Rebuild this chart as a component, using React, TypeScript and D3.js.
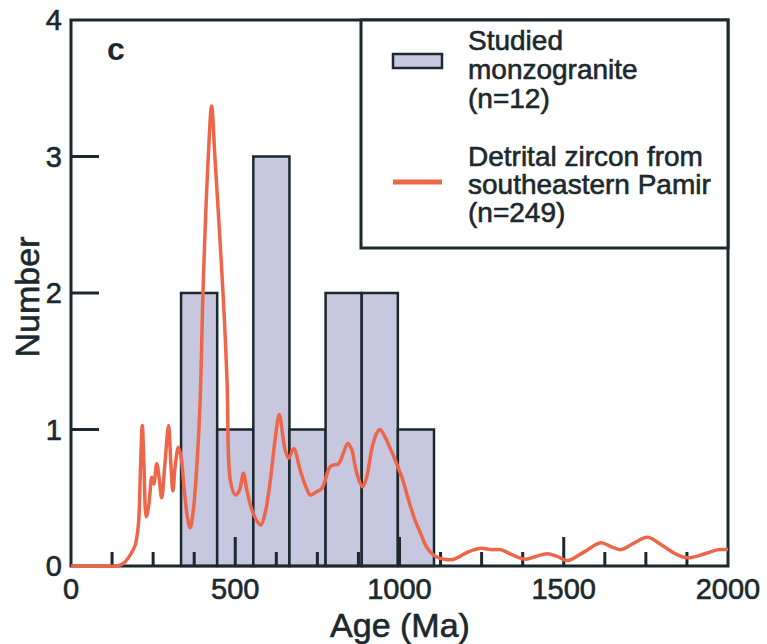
import React from "react";
import * as d3 from "d3";

const binEdges = [335, 445, 555, 665, 775, 885, 995, 1105];
const binCounts = [2, 1, 3, 1, 2, 2, 1];

const curveAges = [0, 100, 140, 160, 180, 195, 205, 212, 217, 222, 229, 237, 246, 252, 261, 268, 276, 286, 297, 304, 310, 318, 327, 335, 345, 355, 363, 372, 383, 393, 403, 418, 428, 438, 449, 465, 475, 485, 500, 512, 525, 535, 551, 566, 578, 592, 607, 620, 634, 645, 652, 663, 678, 698, 715, 729, 745, 764, 790, 815, 828, 843, 855, 866, 878, 888, 900, 915, 928, 940, 955, 972, 993, 1010, 1028, 1045, 1064, 1080, 1095, 1110, 1135, 1166, 1206, 1247, 1280, 1308, 1345, 1384, 1415, 1450, 1480, 1511, 1560, 1613, 1645, 1674, 1715, 1755, 1800, 1840, 1877, 1930, 1970, 2000];
const curveValues = [0, 0, 0, 0.02, 0.08, 0.15, 0.3, 0.75, 1.03, 0.75, 0.36, 0.45, 0.65, 0.6, 0.75, 0.65, 0.5, 0.75, 1.03, 0.75, 0.55, 0.75, 0.87, 0.8, 0.55, 0.35, 0.28, 0.4, 0.73, 1.2, 2.1, 3.0, 3.37, 3.0, 2.57, 1.9, 1.36, 0.63, 0.52, 0.55, 0.68, 0.56, 0.41, 0.33, 0.3, 0.4, 0.63, 0.9, 1.11, 0.95, 0.85, 0.79, 0.86, 0.7, 0.58, 0.52, 0.54, 0.57, 0.73, 0.75, 0.82, 0.9, 0.85, 0.72, 0.62, 0.58, 0.65, 0.85, 0.96, 1.0, 0.95, 0.86, 0.74, 0.63, 0.48, 0.35, 0.24, 0.15, 0.1, 0.07, 0.05, 0.05, 0.1, 0.13, 0.12, 0.12, 0.08, 0.05, 0.07, 0.09, 0.07, 0.04, 0.1, 0.17, 0.14, 0.12, 0.17, 0.21, 0.15, 0.09, 0.06, 0.09, 0.12, 0.12];

const xTickLabels = [0, 500, 1000, 1500, 2000];
const yTickLabels = [0, 1, 2, 3, 4];
const legendBarLines = ["Studied", "monzogranite", "(n=12)"];
const legendCurveLines = ["Detrital zircon from", "southeastern Pamir", "(n=249)"];

const INK = "#1b282d";
const BAR_FILL = "#c7c7df";
const CURVE = "#ee6649";
const FONT = "'Liberation Sans', Arial, sans-serif";

export default function App() {
  const left = 71, right = 728, top = 20, bottom = 566;
  const x = d3.scaleLinear().domain([0, 2000]).range([left, right]);
  const y = d3.scaleLinear().domain([0, 4]).range([bottom, top]);

  const line = d3
    .line<number>()
    .x((_, i) => x(curveAges[i]))
    .y((d) => y(d))
    .curve(d3.curveCatmullRom.alpha(0.5));

  const minorTicks = d3.range(125, 2000, 125).filter((t) => t % 500 !== 0);
  const majorTicks = [500, 1000, 1500];

  const legX = 361, legY = 20, legW = right - 361, legH = 228;
  const txt = { fill: INK, stroke: INK, strokeWidth: 0.6 };

  return (
    <svg width={767} height={644} style={{ position: "absolute", left: 0, top: 0, background: "#fff" }} fontFamily={FONT}>
      {/* bars */}
      {binCounts.map((c, i) => (
        <rect
          key={i}
          x={x(binEdges[i])}
          y={y(c)}
          width={x(binEdges[i + 1]) - x(binEdges[i])}
          height={y(0) - y(c)}
          fill={BAR_FILL}
          stroke={INK}
          strokeWidth={2.5}
        />
      ))}
      {/* frame */}
      <rect x={left} y={top} width={right - left} height={bottom - top} fill="none" stroke={INK} strokeWidth={3} />
      {/* x ticks */}
      {minorTicks.map((t) => (
        <line key={"m" + t} x1={x(t)} x2={x(t)} y1={bottom} y2={bottom - 14} stroke={INK} strokeWidth={3} />
      ))}
      {majorTicks.map((t) => (
        <line key={"M" + t} x1={x(t)} x2={x(t)} y1={bottom} y2={bottom - 29} stroke={INK} strokeWidth={3} />
      ))}
      {/* y ticks */}
      {[1, 2, 3].map((t) => (
        <line key={"y" + t} x1={left} x2={left + 28} y1={y(t)} y2={y(t)} stroke={INK} strokeWidth={3} />
      ))}
      {/* tick labels */}
      {xTickLabels.map((t) => (
        <text key={"xl" + t} x={x(t)} y={599} textAnchor="middle" fontSize={29} {...txt}>
          {t}
        </text>
      ))}
      {yTickLabels.map((t) => (
        <text key={"yl" + t} x={62} y={y(t) + 10} textAnchor="end" fontSize={29} {...txt}>
          {t}
        </text>
      ))}
      {/* axis titles */}
      <text x={400} y={637} textAnchor="middle" fontSize={34} {...txt}>
        Age (Ma)
      </text>
      <text transform={`translate(39,${(top + bottom) / 2 + 4}) rotate(-90)`} textAnchor="middle" fontSize={34} {...txt}>
        Number
      </text>
      <text x={107} y={60} fontSize={32} fontWeight="bold" fill={INK}>
        c
      </text>
      {/* curve */}
      <path d={line(curveValues) || ""} fill="none" stroke={CURVE} strokeWidth={3.5} strokeLinejoin="round" />
      {/* legend */}
      <rect x={legX} y={legY} width={legW} height={legH} fill="#fff" stroke={INK} strokeWidth={3} />
      <rect x={393} y={54} width={49} height={14} fill={BAR_FILL} stroke={INK} strokeWidth={2.5} />
      <line x1={393} x2={442} y1={182} y2={182} stroke={CURVE} strokeWidth={5} />
      {legendBarLines.map((s, i) => (
        <text key={"lb" + i} x={468} y={50 + i * 29} fontSize={28} {...txt}>
          {s}
        </text>
      ))}
      {legendCurveLines.map((s, i) => (
        <text key={"lc" + i} x={468} y={166 + i * 28} fontSize={28} {...txt}>
          {s}
        </text>
      ))}
    </svg>
  );
}
